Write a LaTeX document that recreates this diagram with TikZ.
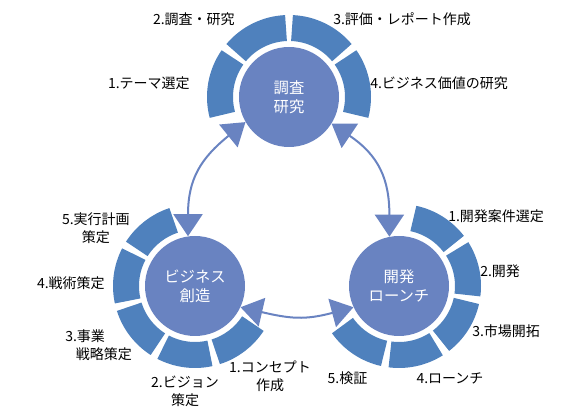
\documentclass[tikz,border=0pt]{standalone}
\usepackage{fontspec}
\setmainfont{Noto Sans CJK JP}
\usetikzlibrary{arrows.meta}
\definecolor{hubc}{HTML}{6983C1}
\definecolor{segc}{HTML}{4F81BD}
\tikzset{
  hub/.style={circle, fill=hubc, text=white, minimum size=75pt, inner sep=0pt,
    align=center, font=\fontsize{11.5}{14.5}\selectfont},
  seg/.style={segc, line width=19.5pt},
  link/.style={{Triangle[length=16.5pt,width=21.75pt]}-{Triangle[length=16.5pt,width=21.75pt]},
    line width=1.5pt, hubc, looseness=1.15},
  lab/.style={inner sep=0pt, align=center, font=\fontsize{10.5}{13.5}\selectfont},
}
\begin{document}
\begin{tikzpicture}[x=0.75pt,y=0.75pt]
\useasboundingbox (0,0) rectangle (579,417);

% ============ top: survey and research ===============
\begin{scope}[shift={(289,320)}]
  \draw[seg] (-15:69) arc[start angle=-15, end angle=35, radius=69];
  \draw[seg] (40:69) arc[start angle=40, end angle=87.5, radius=69];
  \draw[seg] (92.5:69) arc[start angle=92.5, end angle=140, radius=69];
  \draw[seg] (145:69) arc[start angle=145, end angle=195, radius=69];
  \node[hub] (survey) at (0,0) {調査\\研究};
  \node[lab, anchor=east] (s1) at (-99,14) {1.テーマ選定};
  \node[lab, anchor=east] (s2) at (-54,78) {2.調査・研究};
  \node[lab, anchor=west] (s3) at (44,78) {3.評価・レポート作成};
  \node[lab, anchor=west] (s4) at (81,14) {4.ビジネス価値の研究};
\end{scope}

% ============ left: business creation ===============
\begin{scope}[shift={(195,131)}]
  \draw[seg] (108:69) arc[start angle=108, end angle=147.5, radius=69];
  \draw[seg] (152.5:69) arc[start angle=152.5, end angle=192.5, radius=69];
  \draw[seg] (197.5:69) arc[start angle=197.5, end angle=237.5, radius=69];
  \draw[seg] (242.5:69) arc[start angle=242.5, end angle=282.5, radius=69];
  \draw[seg] (287.5:69) arc[start angle=287.5, end angle=327, radius=69];
  \node[hub] (biz) at (0,0) {ビジネス\\創造};
  \node[lab] (b1) at (75,-90) {1.コンセプト\\作成};
  \node[lab] (b2) at (-10,-105) {2.ビジョン\\策定};
  \node[lab, anchor=west, align=left] (b3) at (-130,-59.5) {3.事業\\\hspace*{8pt}戦略策定};
  \node[lab, anchor=east] (b4) at (-90,3) {4.戦術策定};
  \node[lab, anchor=east] (b5) at (-65,58) {5.実行計画\\策定};
\end{scope}

% ============ right: development and launch ===============
\begin{scope}[shift={(399,131)}]
  \draw[seg] (-145:69) arc[start angle=-145, end angle=-102.5, radius=69];
  \draw[seg] (-97.5:69) arc[start angle=-97.5, end angle=-57.5, radius=69];
  \draw[seg] (-52.5:69) arc[start angle=-52.5, end angle=-12.5, radius=69];
  \draw[seg] (-7.5:69) arc[start angle=-7.5, end angle=32.5, radius=69];
  \draw[seg] (37.5:69) arc[start angle=37.5, end angle=78, radius=69];
  \node[hub] (dev) at (0,0) {開発\\ローンチ};
  \node[lab, anchor=west] (d1) at (49,70) {1.開発案件選定};
  \node[lab, anchor=west] (d2) at (81,15) {2.開発};
  \node[lab, anchor=west] (d3) at (73,-45) {3.市場開拓};
  \node[lab] (d4) at (51,-92) {4.ローンチ};
  \node[lab] (d5) at (-51.5,-92) {5.検証};
\end{scope}

% cycle between the three hubs
\draw[link] (survey.210) to[out=219, in=90] (biz.98);
\draw[link] (survey.-32) to[out=-34, in=90] (dev.101);
\draw[link] (biz.-25) to[out=-13, in=195] (dev.205);

\end{tikzpicture}
\end{document}
